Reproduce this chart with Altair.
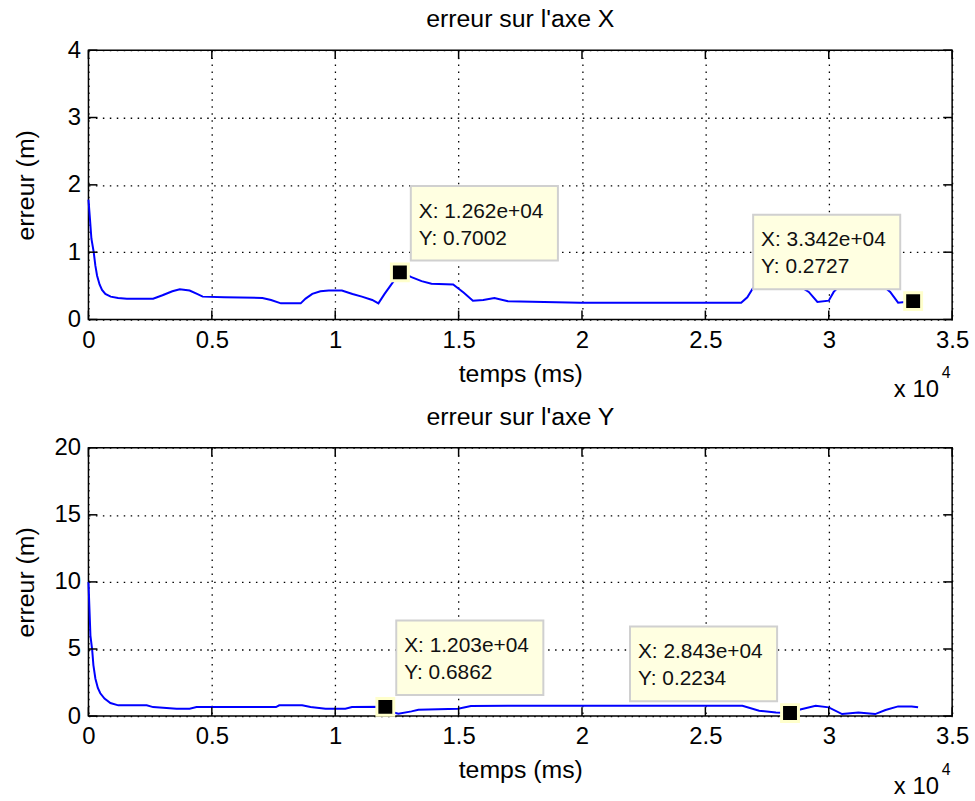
import altair as alt
import pandas as pd

# ---------------- data ----------------
top_t = [0, 60, 120, 213, 280, 350, 450, 550, 684, 900, 1200, 1557, 2620, 3000, 3400,
         3700, 4100, 4400, 4630, 5500, 7050, 7400, 7800, 8600, 8800, 9070, 9400, 9740,
         10270, 10700, 11080, 11500, 11750, 12000, 12290, 12620, 12800, 13090, 13500,
         13900, 14780, 15200, 15580, 16000, 16450, 17000, 19930, 25700, 26450, 26700,
         26920, 27300, 27800, 28300, 28800, 29190, 29540, 30000, 30200, 30500, 31000,
         31600, 32100, 32490, 32810, 33100, 33420]
top_err = [1.78, 1.5, 1.2, 1.0, 0.8, 0.65, 0.52, 0.44, 0.38, 0.34, 0.32, 0.31, 0.31, 0.36,
           0.42, 0.45, 0.43, 0.38, 0.34, 0.33, 0.32, 0.29, 0.24, 0.24, 0.31, 0.38, 0.42,
           0.43, 0.43, 0.38, 0.34, 0.29, 0.24, 0.38, 0.53, 0.7002, 0.68, 0.63, 0.57, 0.53,
           0.52, 0.40, 0.28, 0.29, 0.32, 0.27, 0.25, 0.25, 0.25, 0.33, 0.46, 0.55, 0.60,
           0.58, 0.50, 0.41, 0.26, 0.28, 0.41, 0.52, 0.58, 0.60, 0.53, 0.41, 0.25, 0.26,
           0.2727]

bot_t = [0, 40, 80, 150, 200, 280, 380, 480, 650, 890, 1210, 2360, 2620, 3570, 4100,
         4380, 7600, 7730, 8660, 9000, 9610, 10410, 10680, 12030, 12300, 12560, 13090,
         13370, 14980, 15500, 17000, 26500, 27180, 27860, 28430, 28800, 29470, 30000,
         30540, 31200, 31880, 32300, 32810, 33360, 33620]
bot_err = [10.0, 8.0, 6.0, 4.95, 3.8, 2.8, 2.1, 1.7, 1.3, 0.97, 0.8, 0.8, 0.67, 0.55,
           0.55, 0.67, 0.67, 0.8, 0.8, 0.67, 0.55, 0.55, 0.67, 0.6862, 0.3, 0.17, 0.35,
           0.47, 0.55, 0.75, 0.77, 0.77, 0.4, 0.27, 0.2234, 0.47, 0.77, 0.65, 0.15, 0.27,
           0.15, 0.45, 0.72, 0.72, 0.65]

x_ticks = [0, 5000, 10000, 15000, 20000, 25000, 30000, 35000]
top_y_ticks = [0, 1, 2, 3, 4]
bot_y_ticks = [0, 5, 10, 15, 20]

top_tip_x = [12620, 33420]
top_tip_y = [0.7002, 0.2727]
top_tip_l1 = ["X: 1.262e+04", "X: 3.342e+04"]
top_tip_l2 = ["Y: 0.7002", "Y: 0.2727"]
top_tip_side = ["right", "left"]

bot_tip_x = [12030, 28430]
bot_tip_y = [0.6862, 0.2234]
bot_tip_l1 = ["X: 1.203e+04", "X: 2.843e+04"]
bot_tip_l2 = ["Y: 0.6862", "Y: 0.2234"]
bot_tip_side = ["right", "left"]

titles = ["erreur sur l'axe X", "erreur sur l'axe Y"]
x_title = "temps (ms)"
y_title = "erreur (m)"
exp_base = ["x 10"]
exp_pow = ["4"]

# ---------------- style ----------------
FONT = "Liberation Sans"
W = 869
TICK = 9


def panel(title, t, err, ymax, yticks, tip_x, tip_y, tip_l1, tip_l2, tip_side, H):
    xs = alt.Scale(domain=[0, 35000], nice=False, zero=False)
    ys = alt.Scale(domain=[0, ymax], nice=False, zero=False)
    xaxis = alt.Axis(values=x_ticks, labelExpr="'' + datum.value / 10000",
                     title=x_title, grid=True, ticks=False, domain=False,
                     labelPadding=9, titlePadding=9, labelFlush=False)
    yaxis = alt.Axis(values=yticks, title=y_title, grid=True, ticks=False,
                     domain=False, labelPadding=8, titleX=-63,
                     titleBaseline="middle", labelFlush=False)
    X = alt.X("t:Q", scale=xs, axis=xaxis)
    Y = alt.Y("err:Q", scale=ys, axis=yaxis)

    line = alt.Chart(pd.DataFrame({"t": t, "err": err})).mark_line(
        color="#0000ff", strokeWidth=2).encode(x=X, y=Y)

    xt = pd.DataFrame({"t": x_ticks})
    yt = pd.DataFrame({"err": yticks})
    rule = dict(color="black", strokeWidth=1.5)
    tb = alt.Chart(xt).mark_rule(**rule).encode(
        x=X, y=alt.value(H), y2=alt.value(H - TICK))
    tt = alt.Chart(xt).mark_rule(**rule).encode(
        x=X, y=alt.value(0), y2=alt.value(TICK))
    tl = alt.Chart(yt).mark_rule(**rule).encode(
        y=Y, x=alt.value(0), x2=alt.value(TICK))
    tr = alt.Chart(yt).mark_rule(**rule).encode(
        y=Y, x=alt.value(W - TICK), x2=alt.value(W))

    layers = [line, tb, tt, tl, tr]
    for i in range(len(tip_x)):
        df = pd.DataFrame({"t": [tip_x[i]], "err": [tip_y[i]],
                           "l1": [tip_l1[i]], "l2": [tip_l2[i]]})
        if tip_side[i] == "right":
            b0, b1, tx = 11, 159, 19
        else:
            b0, b1, tx = -161, -13, -153
        box = alt.Chart(df).mark_rect(
            fill="#ffffe1", stroke="#d0d0d0", strokeWidth=2,
            xOffset=b0, x2Offset=b1, yOffset=-87, y2Offset=-12).encode(
            x=X, x2="t:Q", y=Y, y2="err:Q")
        txt1 = alt.Chart(df).mark_text(
            align="left", baseline="middle", dx=tx, dy=-61, font=FONT,
            fontSize=21, color="#111").encode(x=X, y=Y, text="l1:N")
        txt2 = alt.Chart(df).mark_text(
            align="left", baseline="middle", dx=tx, dy=-34, font=FONT,
            fontSize=21, color="#111").encode(x=X, y=Y, text="l2:N")
        mk = alt.Chart(df).mark_square(
            size=289, filled=True, color="black", stroke="#ffffcc",
            strokeWidth=3, opacity=1).encode(x=X, y=Y)
        layers += [box, txt1, txt2, mk]

    e1 = alt.Chart(pd.DataFrame({"s": exp_base})).mark_text(
        align="center", baseline="middle", font=FONT, fontSize=24,
        color="black").encode(x=alt.value(833), y=alt.value(H + 71), text="s:N")
    e2 = alt.Chart(pd.DataFrame({"s": exp_pow})).mark_text(
        align="center", baseline="middle", font=FONT, fontSize=16,
        color="black").encode(x=alt.value(863), y=alt.value(H + 54), text="s:N")
    layers += [e1, e2]

    return alt.layer(*layers).properties(
        width=W, height=H,
        title=alt.TitleParams(title, font=FONT, fontSize=25, fontWeight="normal",
                              color="black", anchor="middle", offset=6))


top = panel(titles[0], top_t, top_err, 4, top_y_ticks, top_tip_x, top_tip_y,
            top_tip_l1, top_tip_l2, top_tip_side, 271)
bot = panel(titles[1], bot_t, bot_err, 20, bot_y_ticks, bot_tip_x, bot_tip_y,
            bot_tip_l1, bot_tip_l2, bot_tip_side, 270)

chart = alt.vconcat(top, bot, spacing=1).properties(
    padding={"left": 13, "top": 4, "right": 5, "bottom": 5},
    background="white"
).configure_view(
    stroke="black", strokeWidth=1.5
).configure_axis(
    labelFont=FONT, labelFontSize=24, labelColor="black",
    titleFont=FONT, titleFontSize=25, titleColor="black", titleFontWeight="normal",
    gridColor="black", gridDash=[1.5, 5.5], gridWidth=1.3, gridOpacity=1
)

chart.save("out.html", embed_options={"renderer": "svg", "actions": False})
